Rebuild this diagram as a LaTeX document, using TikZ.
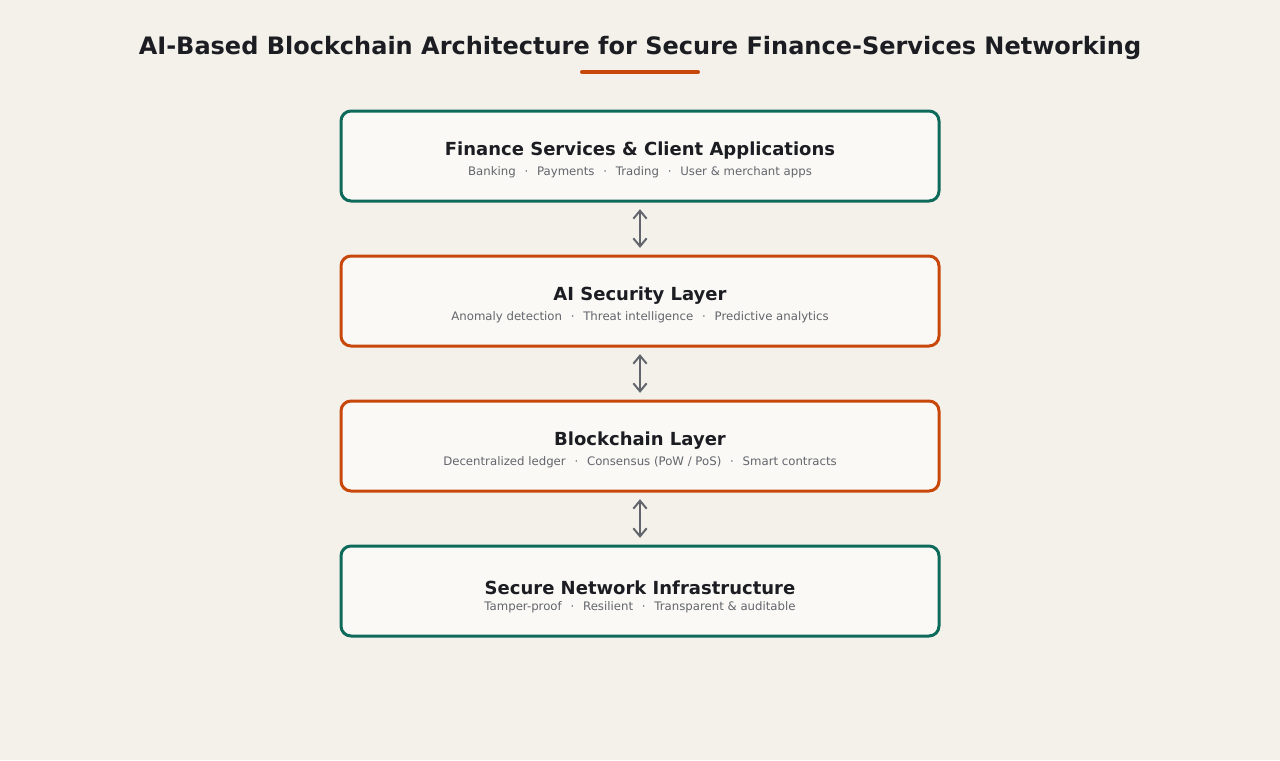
\documentclass[tikz,border=0pt]{standalone}
\usepackage{fontspec}
\setmainfont{DejaVu Sans}
\usetikzlibrary{arrows.meta}
\definecolor{bg}{HTML}{F3F1EA}
\definecolor{boxfill}{HTML}{FAF9F5}
\definecolor{teal}{HTML}{0E6B5B}
\definecolor{orng}{HTML}{C8480C}
\definecolor{ink}{HTML}{1B1D22}
\definecolor{sub}{HTML}{62656C}
\newcommand{\sep}{\hspace{0.75em}·\hspace{0.75em}}
\begin{document}
\begin{tikzpicture}[x=0.75pt,y=-0.75pt,
  layer/.style={draw=#1,line width=2.25pt,fill=boxfill,rounded corners=7.5pt,minimum width=448.5pt,minimum height=67.5pt,inner sep=0pt},
  ttl/.style={font=\bfseries\fontsize{13.5}{16}\selectfont,text=ink},
  subt/.style={font=\fontsize{8.8}{11}\selectfont,text=sub},
  conn/.style={draw=sub,line width=1.5pt,{Straight Barb[length=6pt,width=10pt]}-{Straight Barb[length=6pt,width=10pt]}}]
\fill[bg] (0,0) rectangle (1280,760);
\useasboundingbox (0,0) rectangle (1280,760);
\node[font=\bfseries\fontsize{18}{22}\selectfont,text=ink] (title) at (640,48) {AI-Based Blockchain Architecture for Secure Finance-Services Networking};
\coordinate (ul1) at (582,72); \coordinate (ul2) at (698,72);
\draw[orng,line width=3pt,line cap=round] (ul1) -- (ul2);
\node[layer=teal] (b1) at (640,156) {};
\node[layer=orng] (b2) at (640,301) {};
\node[layer=orng] (b3) at (640,446) {};
\node[layer=teal] (b4) at (640,591) {};
\node[ttl] (t1) at (640,151) {Finance Services \& Client Applications};
\node[subt] (s1) at (640,172) {Banking\sep Payments\sep Trading\sep User \& merchant apps};
\node[ttl] (t2) at (640,296) {AI Security Layer};
\node[subt] (s2) at (640,317) {Anomaly detection\sep Threat intelligence\sep Predictive analytics};
\node[ttl] (t3) at (640,441) {Blockchain Layer};
\node[subt] (s3) at (640,462) {Decentralized ledger\sep Consensus (PoW / PoS)\sep Smart contracts};
\node[ttl] (t4) at (640,588) {Secure Network Infrastructure};
\node[subt] (s4) at (640,607) {Tamper-proof\sep Resilient\sep Transparent \& auditable};
\draw[conn] ([yshift=-5pt]b1.south) -- ([yshift=5pt]b2.north);
\draw[conn] ([yshift=-5pt]b2.south) -- ([yshift=5pt]b3.north);
\draw[conn] ([yshift=-5pt]b3.south) -- ([yshift=5pt]b4.north);
\end{tikzpicture}
\end{document}
